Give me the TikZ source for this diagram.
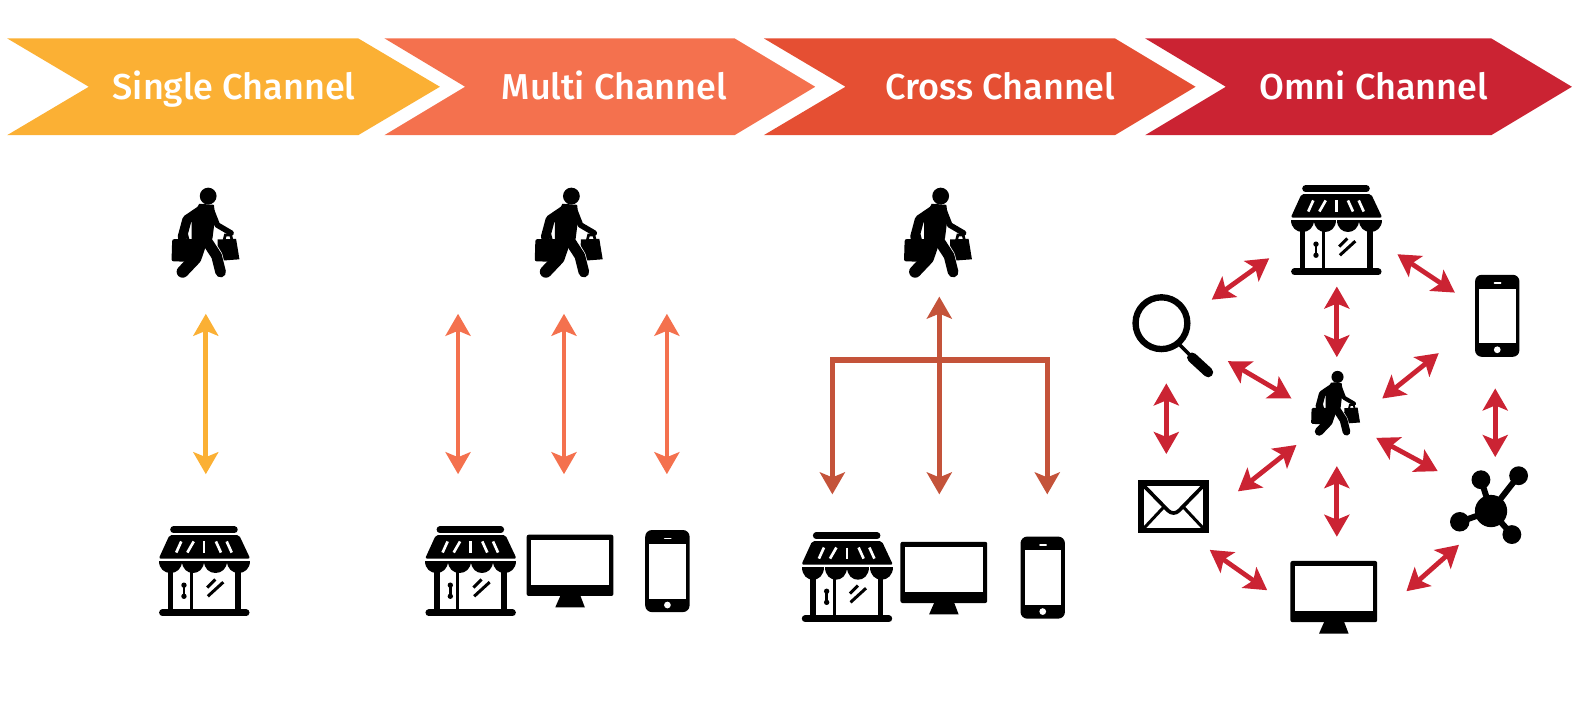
\documentclass[tikz,border=0pt]{standalone}
\usepackage{fontspec}
\setmainfont{Fira Sans Medium}
\usetikzlibrary{arrows.meta}
\definecolor{cyellow}{HTML}{FBB034}
\definecolor{corange}{HTML}{F4714E}
\definecolor{cred}{HTML}{E54F33}
\definecolor{ccrim}{HTML}{CB2333}
\definecolor{ccross}{HTML}{C4533A}
\tikzset{
  x=1.00893pt,y=-1.00893pt,
  label text/.style={text=white,font=\fontsize{36}{40}\selectfont,inner sep=0pt,anchor=base},
  twoway/.style={line width=4.8pt,{Stealth[length=22pt,width=25pt,inset=5pt]}-{Stealth[length=22pt,width=25pt,inset=5pt]}},
  oneway/.style={line width=5.5pt,-{Stealth[length=22pt,width=25pt,inset=5pt]}},
  plainbar/.style={line width=5.5pt,line cap=rect},
  pics/shopper/.style={code={
    \pgfmathsetmacro\ics{#1/3}
    \begin{scope}[scale=\ics,shift={(-228,-190)}]
      \fill (235,80) circle (25);
      \fill[rounded corners=\ics*6pt] (128,208) -- (212,208) -- (212,276) -- (126,274) -- cycle;
      \draw[line width=\ics*8] (150,212) -- (154,197) -- (172,197) -- (176,212);
      \draw[line width=\ics*8] (282,212) -- (286,196) -- (302,196) -- (306,212);
      \fill (263,209) -- (318,207) -- (328,268) -- (262,273) -- cycle;
      \draw[line width=\ics*36,white,line cap=round,line join=round] (234,215) -- (260,258) -- (272,306);
      \draw[line width=\ics*32,line cap=round,line join=round] (230,212) -- (260,258) -- (272,306);
      \draw[line width=\ics*36,line cap=round,line join=round] (214,215) -- (197,265) -- (159,305);
      \fill (208,103) -- (252,106) -- (256,140) -- (248,205) -- (234,234) -- (186,228) -- (186,150) -- cycle;
      \draw[line width=\ics*28,line cap=round,line join=round] (222,116) -- (172,150) -- (158,202);
      \draw[line width=\ics*17,line cap=round,line join=round] (246,125) -- (262,166) -- (303,190);
    \end{scope}}},
  pics/shopper/.default=1,
  pics/store/.style={code={
    \pgfmathsetmacro\ics{#1/3}
    \begin{scope}[scale=\ics,shift={(-192,-180)}]
      \draw[line width=\ics*20,line cap=round] (102,60) -- (283,60);
      \fill[rounded corners=\ics*6pt] (90,76) -- (297,76) -- (330,146) -- (58,146) -- cycle;
      \foreach \xa/\xb in {125/110,162/143,193/193,228/243,260/275}
        \draw[white,line width=\ics*8] (\xa,95) -- (\xb,128);
      \foreach \xa/\xb in {59/126,127/193,194/260,261/329}
        \fill (\xa,152) -- (\xb,152) .. controls (\xb,202) and (\xa,202) .. (\xa,152) -- cycle;
      \draw[line width=\ics*17] (93,175) -- (93,300);
      \draw[line width=\ics*17] (293,175) -- (293,300);
      \draw[line width=\ics*9] (155,180) -- (155,300);
      \draw[line width=\ics*8] (133,225) -- (133,258);
      \fill (133,225) circle (8) (133,258) circle (8);
      \draw[line width=\ics*9] (202,232) -- (226,208);
      \draw[line width=\ics*9] (204,258) -- (250,216);
      \draw[line width=\ics*20,line cap=round] (69,307) -- (318,307);
    \end{scope}}},
  pics/store/.default=1,
  pics/monitor/.style={code={
    \pgfmathsetmacro\ics{#1/3}
    \begin{scope}[scale=\ics,shift={(-181,-183)}]
      \fill[rounded corners=\ics*6pt] (52,75) rectangle (310,257);
      \fill[white] (65,90) rectangle (298,223);
      \fill (152,257) -- (212,257) -- (225,291) -- (137,291) -- cycle;
    \end{scope}}},
  pics/monitor/.default=1,
  pics/phone/.style={code={
    \pgfmathsetmacro\ics{#1/3}
    \begin{scope}[scale=\ics,shift={(-472,-184)}]
      \fill[rounded corners=\ics*20pt] (406,62) rectangle (538,306);
      \fill[white] (418,103) rectangle (527,266);
      \draw[white,line width=\ics*5,line cap=round] (464,87) -- (482,87);
      \fill[white] (472,285) circle (10);
    \end{scope}}},
  pics/phone/.default=1,
  pics/lens/.style={code={
    \pgfmathsetmacro\ics{#1/3}
    \begin{scope}[scale=\ics,shift={(-150,-165)}]
      \draw[line width=\ics*19] (125,130) circle (77);
      \draw[line width=\ics*11] (178,193) -- (210,225);
      \draw[line width=\ics*30,line cap=round] (216,232) -- (264,276);
    \end{scope}}},
  pics/lens/.default=1,
  pics/envelope/.style={code={
    \pgfmathsetmacro\ics{#1/3}
    \begin{scope}[scale=\ics,shift={(-161,-680)}]
      \draw[line width=\ics*16] (65,610) rectangle (258,751);
      \draw[line width=\ics*11] (68,613) -- (145,692) .. controls (155,702) and (168,702) .. (178,692) -- (255,613);
      \draw[line width=\ics*9] (72,746) -- (132,682);
      \draw[line width=\ics*9] (251,746) -- (191,682);
    \end{scope}}},
  pics/envelope/.default=1,
  pics/network/.style={code={
    \pgfmathsetmacro\ics{#1/3}
    \begin{scope}[scale=\ics,shift={(-200,-165)}]
      \draw[line width=\ics*18] (213,183) -- (183,90) (213,183) -- (295,78) (213,183) -- (120,215) (213,183) -- (275,253);
      \fill (213,183) circle (48) (183,90) circle (28) (295,78) circle (28) (120,215) circle (29) (275,253) circle (28);
    \end{scope}}},
  pics/network/.default=1,
}
\begin{document}
\begin{tikzpicture}
\useasboundingbox (0,0) rectangle (1568,700);
% chevrons (shown coordinates)
\fill[cyellow] (7,38) -- (355,38) -- (436,86) -- (355,134) -- (7,134) -- (88,86) -- cycle;
\fill[corange] (381,38) -- (728,38) -- (808,86) -- (728,134) -- (381,134) -- (461,86) -- cycle;
\fill[cred] (757,38) -- (1105,38) -- (1185,86) -- (1105,134) -- (757,134) -- (838,86) -- cycle;
\fill[ccrim] (1135,38) -- (1478,38) -- (1558,86) -- (1478,134) -- (1135,134) -- (1215,86) -- cycle;
\node[label text] (t1) at (232,99) {Single Channel};
\node[label text] (t2) at (609,99) {Multi Channel};
\node[label text] (t3) at (991.5,99) {Cross Channel};
\node[label text] (t4) at (1361.5,99) {Omni Channel};
% icons
\pic at (204,231) {shopper};
\pic at (202,565) {store};
\pic at (564,231) {shopper};
\pic at (466,565) {store};
\pic at (565,566) {monitor};
\pic at (661.5,566) {phone};
\pic at (930,231) {shopper};
\pic at (839,571) {store};
\pic at (935.5,573) {monitor};
\pic at (1033.5,572.5) {phone};
\pic at (1324,227) {store};
\pic at (1484,313) {phone};
\pic at (1159.5,332) {lens};
\pic at (1163,502) {envelope};
\pic at (1473.5,500.5) {network};
\pic at (1322,592) {monitor};
\pic at (1324,400) {shopper=0.72};
% single and multi channel arrows
\foreach \n/\x/\c in {a/204/cyellow,b/454/corange,c/559/corange,d/661/corange}{
  \coordinate (\n top) at (\x,311);
  \coordinate (\n bot) at (\x,470);
  \draw[twoway,color=\c] (\n top) -- (\n bot);
}
% cross channel arrows
\coordinate (xtop) at (931,294);
\coordinate (xmid) at (931,490);
\coordinate (xl) at (825,357);
\coordinate (xr) at (1038,357);
\coordinate (xlb) at (825,490);
\coordinate (xrb) at (1038,490);
\draw[oneway,color=ccross,{Stealth[length=22pt,width=25pt,inset=5pt]}-{Stealth[length=22pt,width=25pt,inset=5pt]}] (xtop) -- (xmid);
\draw[plainbar,color=ccross] (xl) -- (xr);
\draw[oneway,color=ccross] (xl) -- (xlb);
\draw[oneway,color=ccross] (xr) -- (xrb);
% omni channel arrows
\foreach \n/\xa/\ya/\xb/\yb in {
  la/1201/297/1258/256,
  lb/1385/252/1442/290,
  lc/1325/284/1325/354,
  ld/1217/358/1280/395,
  le/1426/350/1370/395,
  lf/1156/380/1156/450,
  lg/1482/385/1482/453,
  lh/1227/487/1285/441,
  li/1425/467/1364/434,
  lj/1325/462/1325/532,
  lk/1199/545/1256/585,
  ll/1394/586/1446/540}{
  \coordinate (\n s) at (\xa,\ya);
  \coordinate (\n e) at (\xb,\yb);
  \draw[twoway,color=ccrim] (\n s) -- (\n e);
}
\end{tikzpicture}
\end{document}
